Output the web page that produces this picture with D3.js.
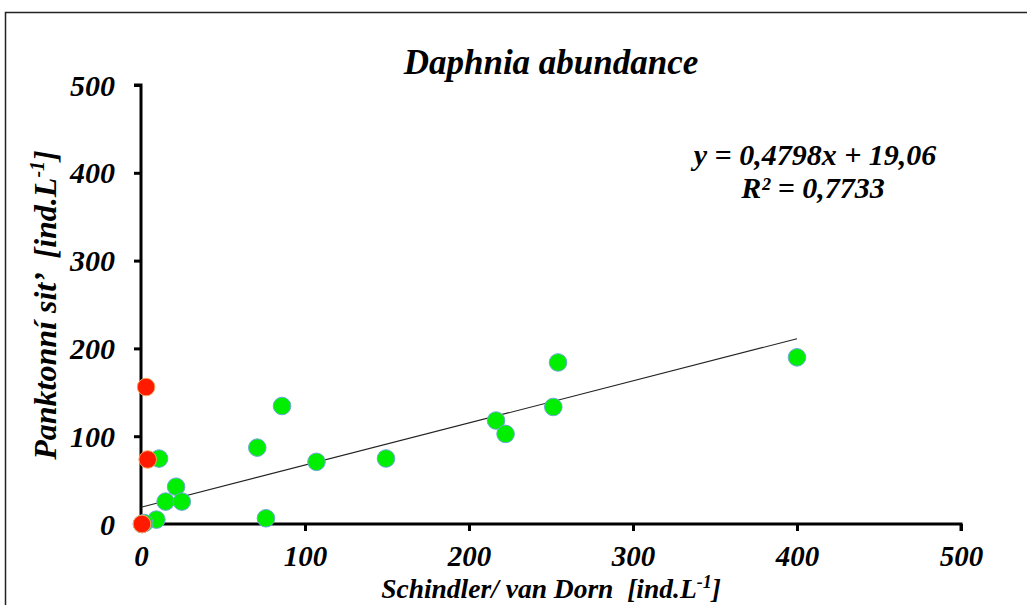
<!DOCTYPE html>
<html>
<head>
<meta charset="utf-8">
<script src="https://cdn.jsdelivr.net/npm/d3@7"></script>
<style>
  html, body { margin: 0; padding: 0; background: #fff; overflow: hidden; }
  svg text { font-family: "Liberation Serif", "Times New Roman", serif; font-weight: bold; font-style: italic; fill: #000; white-space: pre; }
</style>
</head>
<body>
<svg id="chart" width="1027" height="605"></svg>
<script>
// Data
const greenX = [400, 254.3, 251.4, 216.5, 222.3, 149.4, 107, 86, 70.9, 76.2, 11, 21.4, 15, 24.9, 9.4, 2, 0.6];
const greenY = [189.8, 184, 133.3, 117.8, 102.6, 74.6, 70.8, 134.4, 87, 6.5, 74.5, 42.5, 25.5, 25.5, 5, 1, 0];
const redX = [3.1, 4.1, 0.6];
const redY = [156, 73.5, 0];
const xTicks = [0, 100, 200, 300, 400, 500];
const yTicks = [0, 100, 200, 300, 400, 500];
const slope = 0.4798, intercept = 19.06;
const trendXRange = [0, 400];
const titleText = "Daphnia abundance";
const eqText = "y = 0,4798x + 19,06";
const r2Text = "R² = 0,7733";

const svg = d3.select("#chart");
const x = d3.scaleLinear().domain([0, 500]).range([141, 961]);
const y = d3.scaleLinear().domain([0, 500]).range([524, 85]);

// outer frame
svg.append("rect").attr("x", 5.5).attr("y", 12.5).attr("width", 1040).attr("height", 620)
  .attr("fill", "none").attr("stroke", "#222").attr("stroke-width", 1.5);

// title
svg.append("text").attr("x", 551).attr("y", 74).attr("text-anchor", "middle")
  .style("font-size", "35px").text(titleText);

// axes
const xAxis = d3.axisBottom(x).tickValues(xTicks).tickSize(7).tickFormat(d3.format("d"));
const yAxis = d3.axisLeft(y).tickValues(yTicks).tickSize(7).tickFormat(d3.format("d"));

const gx = svg.append("g").attr("transform", `translate(0,${y(0)})`).call(xAxis);
const gy = svg.append("g").attr("transform", `translate(${x(0)},0)`).call(yAxis);
[gx, gy].forEach(g => {
  g.select(".domain").attr("stroke", "#000").attr("stroke-width", 3);
  g.selectAll(".tick line").attr("stroke", "#000").attr("stroke-width", 3);
  g.selectAll(".tick text").style("font-size", "30px").attr("fill", "#000");
});
gx.selectAll(".tick text").style("font-size", "29px");
gx.select(".domain").attr("d", `M${x(0)},0H${x(500)}V7`);
gy.select(".domain").attr("d", `M-7,${y(500)}H0V${y(0)}`);
gx.selectAll(".tick text").attr("y", 0).attr("dy", "42px");
gy.selectAll(".tick text").attr("x", -26).attr("dy", "10px");

// trendline
svg.append("line")
  .attr("x1", x(trendXRange[0])).attr("y1", y(slope * trendXRange[0] + intercept))
  .attr("x2", x(trendXRange[1])).attr("y2", y(slope * trendXRange[1] + intercept))
  .attr("stroke", "#222").attr("stroke-width", 1.2);

// points
const greenPts = greenX.map((v, i) => [v, greenY[i]]);
const redPts = redX.map((v, i) => [v, redY[i]]);
svg.append("g").selectAll("circle").data(greenPts).join("circle")
  .attr("cx", d => x(d[0])).attr("cy", d => y(d[1])).attr("r", 8.8)
  .attr("fill", "#00ee00").attr("stroke", "#6fa8dc").attr("stroke-width", 1);
svg.append("g").selectAll("circle").data(redPts).join("circle")
  .attr("cx", d => x(d[0])).attr("cy", d => y(d[1])).attr("r", 8.8)
  .attr("fill", "#ff1a00").attr("stroke", "#f4a460").attr("stroke-width", 1);

// equation
svg.append("text").attr("x", 815).attr("y", 165).attr("text-anchor", "middle")
  .style("font-size", "30px").text(eqText);
svg.append("text").attr("x", 813).attr("y", 198).attr("text-anchor", "middle")
  .style("font-size", "30px").text(r2Text);

// x-axis label
const xl = svg.append("text").attr("x", 551).attr("y", 598).attr("text-anchor", "middle")
  .style("font-size", "27.5px");
xl.append("tspan").text("Schindler/ van Dorn  [ind.L");
xl.append("tspan").attr("dy", -10).style("font-size", "18px").text("-1");
xl.append("tspan").attr("dy", 10).text("]");

// y-axis label
const yl = svg.append("text").attr("transform", "translate(56,305) rotate(-90)")
  .attr("text-anchor", "middle").style("font-size", "32px");
yl.append("tspan").text("Panktonní sit’  [ind.L");
yl.append("tspan").attr("dy", -12).style("font-size", "20px").text("-1");
yl.append("tspan").attr("dy", 12).text("]");
</script>
</body>
</html>
